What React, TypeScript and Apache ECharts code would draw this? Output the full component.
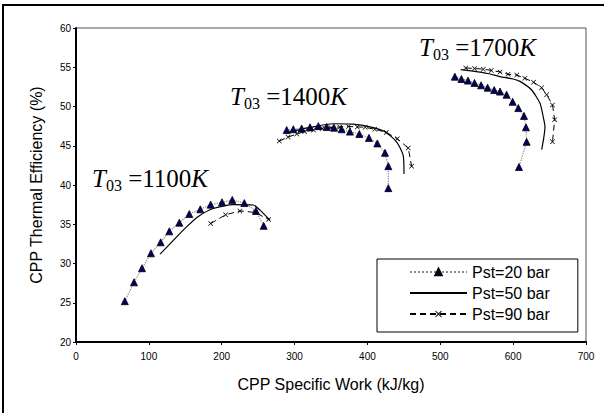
import React, { useEffect, useRef } from "react";
import * as echarts from "echarts";

const seriesNames = ["Pst=20 bar", "Pst=50 bar", "Pst=90 bar"];
const tempLabels = ["1100", "1400", "1700"];

const p20_1100: number[][] = [[67, 25.2], [79.6, 27.6], [90.6, 29.4], [102.9, 31.3], [116.2, 32.7], [128.1, 34.1], [141.8, 35.2], [155.5, 36.3], [170.6, 36.9], [184.8, 37.5], [200.4, 37.8], [214.5, 38.1], [231, 37.7], [247, 36.7], [257.6, 34.8]];
const p50_1100: number[][] = [[115.3, 31.2], [127, 32.3], [138.2, 33.4], [152, 34.7], [167.9, 36.0], [188.5, 37.0], [215.9, 37.5], [243.4, 37.45], [252.5, 36.8], [266.3, 35.5]];
const p90_1100: number[][] = [[184.8, 35.1], [205.4, 36.2], [225, 36.7], [246, 36.5], [264.4, 35.6]];

const p20_1400: number[][] = [[289.2, 47.0], [298.3, 47.1], [309.7, 47.2], [321.2, 47.35], [332.6, 47.5], [344.1, 47.4], [354.1, 47.3], [364.6, 47.1], [376, 46.8], [388.9, 46.5], [402.1, 46.0], [413.6, 45.3], [424.1, 44.1], [428.7, 42.4], [428.7, 39.6]];
const p50_1400: number[][] = [[290, 46.7], [320, 47.3], [353, 47.8], [380, 47.75], [403.5, 47.4], [424, 46.8], [440, 45.5], [449, 43.8], [450.2, 41.4]];
const p90_1400: number[][] = [[279, 45.6], [291, 46.1], [303, 46.5], [314, 46.8], [326, 47.0], [338, 47.2], [350, 47.3], [362, 47.4], [374, 47.45], [386, 47.4], [397, 47.35], [410, 47.1], [426, 46.7], [441, 45.9], [456, 44.7], [460.7, 42.4]];

const p20_1700: number[][] = [[520, 53.8], [529, 53.5], [538, 53.3], [547, 53.0], [556, 52.7], [565, 52.4], [574, 52.1], [582, 51.9], [591, 51.5], [599.3, 50.6], [607.1, 49.8], [614.9, 48.8], [617.6, 47.35], [618.5, 45.5], [608, 42.3]];
const p50_1700: number[][] = [[528, 54.7], [545, 54.5], [565, 54.2], [582, 53.8], [600, 53.5], [609.4, 53.2], [625.4, 52.1], [636.9, 50.4], [641, 48.8], [643.7, 47.4], [642, 46], [639.2, 44.5]];
const p90_1700: number[][] = [[535, 54.9], [547, 54.85], [559, 54.75], [570, 54.6], [582, 54.4], [593, 54.1], [605, 54.0], [616, 53.6], [628, 53.1], [639, 52.4], [646, 51.5], [654, 50.2], [657, 48.3], [654, 45.5]];

const X_PATH = "path://M0,1L1,0L5,4L9,0L10,1L6,5L10,9L9,10L5,6L1,10L0,9L4,5Z";

export default function App() {
  const ref = useRef<HTMLDivElement>(null);
  useEffect(() => {
    if (!ref.current) return;
    const chart = echarts.init(ref.current, null, { renderer: "svg" });
    const font = "Liberation Sans";
    const s20 = (data: number[][]) => ({
      name: seriesNames[0], type: "line", data,
      symbol: "triangle", symbolSize: 7,
      lineStyle: { color: "#8a8a8a", type: "dotted", width: 1.2 },
      itemStyle: { color: "#000066", borderColor: "#000", borderWidth: 0.8 },
    });
    const s50 = (data: number[][]) => ({
      name: seriesNames[1], type: "line", data, smooth: 0.2,
      symbol: "circle", symbolSize: 0,
      lineStyle: { color: "#000", type: "solid", width: 1.2 },
      itemStyle: { color: "rgba(0,0,0,0)", borderWidth: 0 },
    });
    const s90 = (data: number[][]) => ({
      name: seriesNames[2], type: "line", data,
      symbol: X_PATH, symbolSize: 5,
      lineStyle: { color: "#000", type: [6, 4], width: 1 },
      itemStyle: { color: "#000" },
    });
    const makeLabel = (t: string, x: number, y: number) => ({
      type: "text", x, y,
      style: {
        text: `{t|T}{s|03}{r| =${t}}{t|K}`,
        verticalAlign: "middle",
        rich: {
          t: { fontFamily: "Liberation Serif", fontStyle: "italic", fontSize: 25, lineHeight: 30, fill: "#000", verticalAlign: "middle" },
          s: { fontFamily: "Liberation Serif", fontSize: 16, lineHeight: 16, fill: "#000", verticalAlign: "bottom" },
          r: { fontFamily: "Liberation Serif", fontSize: 25, lineHeight: 30, fill: "#000", verticalAlign: "middle" },
        },
      },
    });
    chart.setOption({
      animation: false,
      backgroundColor: "#fff",
      textStyle: { fontFamily: font },
      grid: { left: 76, right: 18, top: 28, bottom: 71, show: true, borderColor: "#555", borderWidth: 1 },
      xAxis: {
        type: "value", min: 0, max: 700, interval: 100,
        name: "CPP Specific Work (kJ/kg)", nameLocation: "middle", nameGap: 34,
        nameTextStyle: { fontSize: 16, color: "#000", fontFamily: font },
        axisLine: { show: true, lineStyle: { color: "#000", width: 2 } },
        axisTick: { show: true, length: 3, lineStyle: { color: "#000" } },
        axisLabel: { fontSize: 10, color: "#000", margin: 9, fontFamily: font },
        splitLine: { show: false },
      },
      yAxis: {
        type: "value", min: 20, max: 60, interval: 5,
        name: "CPP Thermal Efficiency (%)", nameLocation: "middle", nameGap: 32,
        nameTextStyle: { fontSize: 16, color: "#000", fontFamily: font },
        axisLine: { show: true, lineStyle: { color: "#000", width: 2 } },
        axisTick: { show: true, length: 3, lineStyle: { color: "#000" } },
        axisLabel: { fontSize: 10, color: "#000", margin: 5, fontFamily: font },
        splitLine: { show: false },
      },
      legend: {
        orient: "vertical", left: 377, top: 259,
        data: seriesNames,
        itemWidth: 57, itemHeight: 8, itemGap: 5,
        padding: [5, 28, 10, 32],
        borderColor: "#000", borderWidth: 1, backgroundColor: "#fff",
        textStyle: { fontSize: 16, color: "#000", fontFamily: font },
        selectedMode: false,
      },
      graphic: [
        { type: "rect", shape: { x: 3, y: 5, width: 700, height: 500 }, style: { fill: "none", stroke: "#000", lineWidth: 2 }, silent: true },
        makeLabel(tempLabels[0], 92, 178),
        makeLabel(tempLabels[1], 230, 96),
        makeLabel(tempLabels[2], 419, 47),
      ],
      series: [
        s20(p20_1100), s20(p20_1400), s20(p20_1700),
        s50(p50_1100), s50(p50_1400), s50(p50_1700),
        s90(p90_1100), s90(p90_1400), s90(p90_1700),
      ],
    });
    return () => chart.dispose();
  }, []);
  return <div ref={ref} style={{ position: "absolute", left: 0, top: 0, width: 604, height: 413 }} />;
}
